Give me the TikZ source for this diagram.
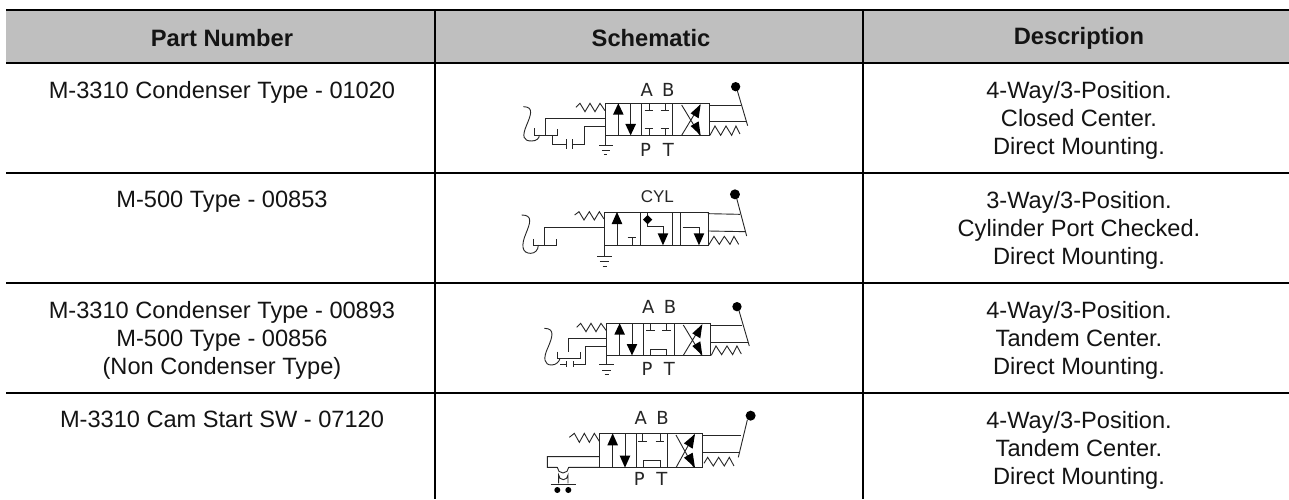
\documentclass[tikz,border=0pt]{standalone}
\usepackage{fontspec}
\setmainfont{Liberation Sans}
\newfontfamily\schemfont{DejaVu Sans}
\newfontfamily\cylfont{Liberation Sans}
\tikzset{
  rule/.style={line width=2pt,black},
  celltext/.style={align=center,font=\fontsize{23.6}{28.2}\selectfont,text=black!92,inner sep=0pt},
  headtext/.style={font=\fontsize{23.7}{28}\selectfont\bfseries,text=black!92,inner sep=0pt},
  sym/.style={line width=0.9pt,draw=black!85},
  port/.style={font=\schemfont\fontsize{18}{20}\selectfont,text=black!85,inner sep=0pt},
  cylport/.style={font=\cylfont\fontsize{17}{20}\selectfont,text=black!85,inner sep=0pt},
  head/.style={fill=black}
}
% zoom-space helpers: coordinates are the 3x zoom crop's pixels
\newcommand{\ahd}[3]{\fill[head] (#1,#2) -- (#1-16,#2-#3) -- (#1+16,#2-#3) -- cycle;}
\newcommand{\ahu}[3]{\fill[head] (#1,#2) -- (#1-16,#2+#3) -- (#1+16,#2+#3) -- cycle;}
\begin{document}
\begin{tikzpicture}[x=1pt,y=-1pt]
\useasboundingbox (0,0) rectangle (1289,499);
\fill[white] (0,0) rectangle (1289,499);
\fill[black!25] (6,10) rectangle (1289,63);
\foreach \yy in {10,63,173,283,393} \draw[rule] (6,\yy) -- (1289,\yy);
\draw[rule] (435,10) -- (435,499);
\draw[rule] (863,10) -- (863,499);
% header
\node[headtext] (h1) at (222,38) {Part Number};
\node[headtext] (h2) at (651,38) {Schematic};
\node[headtext] (h3) at (1079,38) {Description};
% column 1
\node[celltext,anchor=north] (p1) at (222,81) {M-3310 Condenser Type - 01020};
\node[celltext,anchor=north] (p2) at (222,191) {M-500 Type - 00853};
\node[celltext,anchor=north] (p3) at (222,301) {M-3310 Condenser Type - 00893\\M-500 Type - 00856\\(Non Condenser Type)};
\node[celltext,anchor=north] (p4) at (222,411) {M-3310 Cam Start SW - 07120};
% column 3
\node[celltext,anchor=north] (d1) at (1079,81) {4-Way/3-Position.\\Closed Center.\\Direct Mounting.};
\node[celltext,anchor=north] (d2) at (1079,191) {3-Way/3-Position.\\Cylinder Port Checked.\\Direct Mounting.};
\node[celltext,anchor=north] (d3) at (1079,301) {4-Way/3-Position.\\Tandem Center.\\Direct Mounting.};
\node[celltext,anchor=north] (d4) at (1079,411) {4-Way/3-Position.\\Tandem Center.\\Direct Mounting.};
% ---------- row 1
\begin{scope}[shift={(480,60)},x=0.3333pt,y=-0.3333pt]
\draw[sym] (375,130) rectangle (688,226);
\draw[sym] (485,130) -- (485,226) (578,130) -- (578,226);
\draw[sym] (415,226) -- (415,160); \ahu{415}{130}{34}
\draw[sym] (452,130) -- (452,195); \ahd{452}{226}{34}
\draw[sym] (507,130) -- (507,150) (494,150) -- (520,150) (555,130) -- (555,150) (542,150) -- (568,150);
\draw[sym] (507,226) -- (507,204) (494,204) -- (520,204) (555,226) -- (555,204) (542,204) -- (568,204);
\draw[sym] (605,226) -- (660,135) (605,135) -- (660,226);
\fill[head] (662,133) -- (632,160) -- (656,175) -- cycle;
\fill[head] (662,226) -- (632,198) -- (656,184) -- cycle;
\draw[sym] (688,136) -- (782,136) (688,185) -- (800,185);
\draw[sym] (770,85) -- (803,197);
\fill (767,80) circle (14);
\draw[sym] (288,142) -- (300,130) -- (315,155) -- (330,130) -- (345,155) -- (360,130) -- (375,152);
\draw[sym] (690,226) -- (705,198) -- (722,226) -- (738,198) -- (755,226) -- (768,198) -- (780,222);
\draw[sym] (130,140) .. controls (165,140) and (150,170) .. (140,195) .. controls (125,230) and (130,243) .. (155,243) .. controls (170,243) and (178,235) .. (178,225);
\draw[sym] (163,205) -- (163,225) -- (232,225) -- (232,207);
\draw[sym] (197,225) -- (197,175) -- (375,175);
\draw[sym] (218,225) -- (218,252) -- (258,252) (258,238) -- (258,266) (278,238) -- (278,266) (278,252) -- (313,252) -- (313,199) -- (375,199);
\draw[sym] (375,226) -- (375,255) (358,257) -- (398,257) (366,270) -- (390,270) (372,283) -- (382,283);
\node[port] (a1) at (500,90) {A};
\node[port] (b1) at (565,90) {B};
\node[port] (pp1) at (497,270) {P};
\node[port] (t1) at (565,270) {T};
\end{scope}
% ---------- row 2
\begin{scope}[shift={(480,155)},x=0.3333pt,y=-0.3333pt]
\draw[sym] (373,171) rectangle (684,271);
\draw[sym] (481,171) -- (481,271) (576,171) -- (576,271) (602,171) -- (602,271);
\draw[sym] (411,271) -- (411,205); \ahu{411}{171}{36}
\draw[sym] (456,271) -- (456,248) (443,248) -- (469,248);
\draw[sym] (503,171) -- (503,215) -- (549,215) -- (549,240); \ahd{549}{271}{36}
\fill[head] (503,180) -- (517,194) -- (503,208) -- (489,194) -- cycle;
\draw[sym] (608,218) -- (657,218) -- (657,240); \ahd{657}{271}{36}
\draw[sym] (684,176) -- (780,178) (684,228) -- (795,230);
\draw[sym] (768,122) -- (800,243);
\fill (765,118) circle (15);
\draw[sym] (284,180) -- (297,170) -- (312,195) -- (328,170) -- (343,195) -- (358,170) -- (372,192);
\draw[sym] (686,270) -- (702,244) -- (718,268) -- (733,244) -- (750,268) -- (762,244) -- (776,268);
\draw[sym] (125,180) .. controls (160,180) and (150,205) .. (138,235) .. controls (123,270) and (125,295) .. (152,295) .. controls (165,295) and (175,285) .. (175,270);
\draw[sym] (160,252) -- (160,270) -- (230,270) -- (230,252);
\draw[sym] (193,270) -- (193,218) -- (373,218);
\draw[sym] (374,271) -- (374,303);
\draw[sym] (352,303) -- (396,303) (360,318) -- (388,318) (368,333) -- (380,333);
\node[cylport] (c2) at (532,125) {CYL};
\end{scope}
% ---------- row 3
\begin{scope}[shift={(480,290)},x=0.3333pt,y=-0.3333pt]
\draw[sym] (380,100) rectangle (692,196);
\draw[sym] (490,100) -- (490,196) (583,100) -- (583,196);
\draw[sym] (419,196) -- (419,130); \ahu{419}{100}{34}
\draw[sym] (456,100) -- (456,165); \ahd{456}{196}{34}
\draw[sym] (512,100) -- (512,122) (499,122) -- (525,122) (560,100) -- (560,122) (547,122) -- (573,122);
\draw[sym] (510,196) -- (510,178) -- (560,178) -- (560,196);
\draw[sym] (610,196) -- (665,105) (610,105) -- (665,196);
\fill[head] (667,103) -- (637,130) -- (661,145) -- cycle;
\fill[head] (667,196) -- (637,168) -- (661,154) -- cycle;
\draw[sym] (692,106) -- (785,106) (692,156) -- (805,156);
\draw[sym] (775,55) -- (808,168);
\fill (771,50) circle (14);
\draw[sym] (290,112) -- (302,100) -- (318,125) -- (333,100) -- (348,125) -- (363,100) -- (379,122);
\draw[sym] (694,196) -- (708,168) -- (725,194) -- (741,168) -- (758,194) -- (771,168) -- (784,192);
\draw[sym] (193,115) .. controls (228,115) and (215,145) .. (205,170) .. controls (188,205) and (192,225) .. (215,225) .. controls (228,225) and (238,215) .. (240,205);
\draw[sym] (233,185) -- (233,205) -- (301,205) -- (301,187);
\draw[sym] (266,185) -- (266,145) -- (380,145);
\draw[sym] (240,222) -- (260,222) (260,214) -- (260,230) (280,214) -- (280,230) (280,222) -- (316,222) -- (316,170) -- (380,170);
\draw[sym] (380,196) -- (380,222) (358,224) -- (402,224) (367,240) -- (393,240) (374,253) -- (386,253);
\node[port] (a3) at (505,52) {A};
\node[port] (b3) at (570,52) {B};
\node[port] (pp3) at (501,238) {P};
\node[port] (t3) at (568,238) {T};
\end{scope}
% ---------- row 4
\begin{scope}[shift={(480,400)},x=0.3333pt,y=-0.3333pt]
\draw[sym] (358,100) rectangle (668,203);
\draw[sym] (470,100) -- (470,203) (562,100) -- (562,203);
\draw[sym] (398,203) -- (398,135); \ahu{398}{100}{36}
\draw[sym] (435,100) -- (435,170); \ahd{435}{203}{36}
\draw[sym] (488,100) -- (488,124) (475,124) -- (501,124) (540,100) -- (540,124) (527,124) -- (553,124);
\draw[sym] (490,203) -- (490,182) -- (540,182) -- (540,203);
\draw[sym] (588,203) -- (642,105) (588,105) -- (642,203);
\fill[head] (645,102) -- (612,130) -- (638,146) -- cycle;
\fill[head] (645,203) -- (612,173) -- (638,158) -- cycle;
\draw[sym] (668,106) -- (782,106) (668,158) -- (778,158);
\draw[sym] (802,60) -- (775,172);
\fill (812,47) circle (15);
\draw[sym] (268,112) -- (283,100) -- (298,127) -- (313,100) -- (328,127) -- (343,100) -- (358,124);
\draw[sym] (672,190) -- (683,172) -- (700,198) -- (716,172) -- (733,198) -- (748,172) -- (762,198);
\draw[sym] (358,170) -- (202,170) -- (202,202) -- (232,202) (232,202) arc (180:0:17) (266,202) -- (358,202);
\draw[sym] (236,250) -- (236,225) arc (180:0:14) -- (264,250);
\draw[line width=1.4pt,draw=black!85] (212,253) -- (288,253);
\fill (232,270) circle (9) (265,270) circle (9);
\node[port] (a4) at (482,55) {A};
\node[port] (b4) at (548,55) {B};
\node[port] (pp4) at (478,238) {P};
\node[port] (t4) at (546,238) {T};
\end{scope}
\end{tikzpicture}
\end{document}
